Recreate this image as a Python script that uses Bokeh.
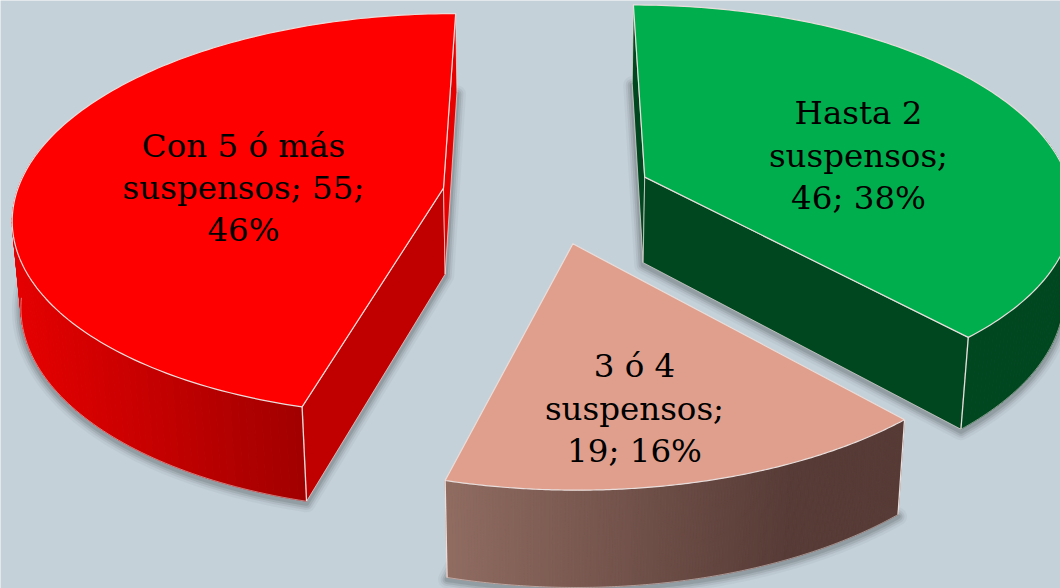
import numpy as np
from bokeh.plotting import figure
from bokeh.embed import file_html
from bokeh.resources import INLINE
from bokeh.core.properties import value

# ---- data
categories = ["Hasta 2 suspensos", "3 ó 4 suspensos", "Con 5 ó más suspensos"]
counts = [46, 19, 55]
percents = ["38%", "16%", "46%"]
label_lines = [
    ["Hasta 2", "suspensos;", "46; 38%"],
    ["3 ó 4", "suspensos;", "19; 16%"],
    ["Con 5 ó más", "suspensos; 55;", "46%"],
]

# ---- style / layout
BG = "#C5D1D9"
TOP = ["#00AE4E", "#DF9F8C", "#FF0000"]
WALL = ["#004720", "#5A3E38", "#C00000"]
SLIVER = ["#004720", "#5A3E38", "#E60000"]
GRAD = [(("#004720"), ("#004720")), ("#906C61", "#573B36"), ("#E40000", "#A00000")]
GRAD_X = [(600, 1060), (445, 790), (20, 305)]
EDGE = "#E9DEDC"
LABEL_X = [858, 634, 243]
LABEL_Y = [[112, 155, 197], [365, 408, 450], [145, 187, 229]]
FONT = "DejaVu Serif"
FONT_SIZE = "32.5px"

CX, CY = 547.0, 194.0
F, D, EL = 2850.0, 6.67, np.radians(27.8)
H, EXPLODE = 0.232, 0.2465


def project(X, Y, Z):
    X, Y, Z = map(np.asarray, (X, Y, Z))
    yc = Y * np.sin(EL) + Z * np.cos(EL)
    zc = D + Y * np.cos(EL) - Z * np.sin(EL)
    return CX + F * X / zc, CY - F * yc / zc


def hex2rgb(h):
    return np.array([int(h[i:i + 2], 16) for i in (1, 3, 5)], float)


def mix(a, b, t):
    t = min(max(t, 0.0), 1.0)
    c = hex2rgb(a) * (1 - t) + hex2rgb(b) * t
    return "#%02x%02x%02x" % tuple(int(round(v)) for v in c)


p = figure(width=1060, height=588, x_range=(0, 1060), y_range=(588, 0),
           output_backend="svg", toolbar_location=None, min_border=0,
           background_fill_color=BG, border_fill_color=BG, outline_line_color=None)
p.axis.visible = False
p.grid.visible = False

total = sum(counts)
edges = np.cumsum([0] + counts) / total * 2 * np.pi

geoms = []
for i in range(3):
    t0, t1 = edges[i], edges[i + 1]
    mid = (t0 + t1) / 2
    ox, oy = EXPLODE * np.sin(mid), EXPLODE * np.cos(mid)
    th = np.linspace(t0, t1, 160)
    ax, ay = ox + np.sin(th), oy + np.cos(th)
    geoms.append((ox, oy, ax, ay))

# soft shadows from the bottom faces
for ox, oy, ax, ay in geoms:
    X = np.r_[ox, ax]
    Y = np.r_[oy, ay]
    u, v = project(X, Y, np.full_like(X, -H))
    for w, a in [(18, 0.06), (13, 0.10), (9, 0.14), (5, 0.18)]:
        p.patch(list(u), list(v + 2), fill_color="#4A5358", fill_alpha=0.0,
                line_color="#4A5358", line_alpha=a, line_width=w, line_join="round")

for i, (ox, oy, ax, ay) in enumerate(geoms):
    # radial walls: the wall toward the viewer is darker than the far sliver
    for k in (0, -1):
        ex, ey = ax[k], ay[k]
        col = WALL[i] if ey - oy < 0 else SLIVER[i]
        X = np.array([ox, ex, ex, ox])
        Y = np.array([oy, ey, ey, oy])
        Z = np.array([0, 0, -H, -H])
        u, v = project(X, Y, Z)
        p.patch(list(u), list(v), fill_color=col, line_color=EDGE, line_width=1, line_alpha=0.7)
    # curved side, drawn as narrow strips for the gradient
    ut, vt = project(ax, ay, np.zeros_like(ax))
    ub, vb = project(ax, ay, np.full_like(ax, -H))
    xs, ys, cs = [], [], []
    for k in range(len(ax) - 1):
        if ay[k] - oy > 0.2 and ay[k + 1] - oy > 0.2:
            continue
        xs.append([ut[k], ut[k + 1], ub[k + 1], ub[k]])
        ys.append([vt[k], vt[k + 1], vb[k + 1], vb[k]])
        t = ((ut[k] + ut[k + 1]) / 2 - GRAD_X[i][0]) / (GRAD_X[i][1] - GRAD_X[i][0])
        cs.append(mix(GRAD[i][0], GRAD[i][1], t))
    p.patches(xs, ys, fill_color=cs, line_color=cs, line_width=1)
    near = (ay - oy) < -0.1
    p.line(list(ub[near]), list(vb[near]), line_color=EDGE, line_width=1, line_alpha=0.55)
    # highlight on the near corners only
    for k in (0, -1):
        if ay[k] - oy < 0:
            p.line([ut[k], ub[k]], [vt[k], vb[k]], line_color=EDGE, line_width=1.3)
    # top face
    X = np.r_[ox, ax]
    Y = np.r_[oy, ay]
    u, v = project(X, Y, np.zeros_like(X))
    p.patch(list(u), list(v), fill_color=TOP[i], line_color=EDGE, line_width=1.2, line_join="round")

for i, lines in enumerate(label_lines):
    p.text([LABEL_X[i]] * 3, LABEL_Y[i], text=lines, text_align="center", text_baseline="middle",
           text_font=value(FONT), text_font_size=value(FONT_SIZE), text_color="#000000")

open("out.html", "w").write(file_html(p, INLINE))
